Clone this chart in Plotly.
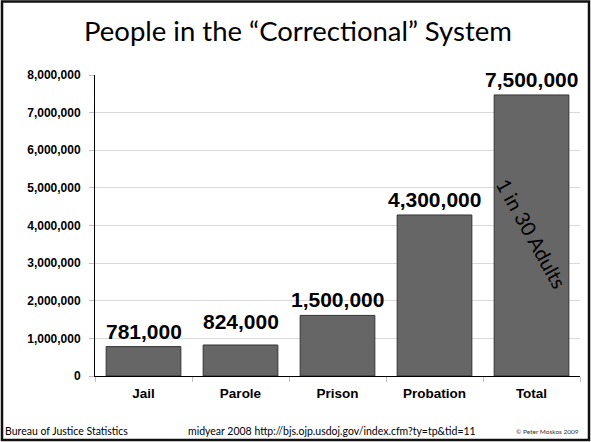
import plotly.graph_objects as go

categories = ["Jail", "Parole", "Prison", "Probation", "Total"]
values = [781000, 824000, 1610000, 4280000, 7470000]
bar_labels = ["781,000", "824,000", "1,500,000", "4,300,000", "7,500,000"]
y_ticks = [0, 1000000, 2000000, 3000000, 4000000, 5000000, 6000000, 7000000, 8000000]
y_tick_labels = ["0", "1,000,000", "2,000,000", "3,000,000", "4,000,000",
                 "5,000,000", "6,000,000", "7,000,000", "8,000,000"]
note_y = 3800000

title_text = "People in the \u201cCorrectional\u201d System"
note_text = "1 in 30 Adults"
footer_left = "Bureau of Justice Statistics"
footer_mid = "midyear 2008 http://bjs.ojp.usdoj.gov/index.cfm?ty=tp&tid=11"
footer_right = "\u00a9 Peter Moskos 2009"

# styling: pixel lift of each value label above its bar
label_lift = [2, 10, 2, 2, 2]

W, H = 591, 442
L, R, T, B = 95, 11, 75, 66
pw, ph = W - L - R, H - T - B

def px(x):
    return (x - L) / pw

def py(y):
    return (H - B - y) / ph

fig = go.Figure()
fig.add_trace(go.Bar(
    x=categories, y=values,
    marker=dict(color="#666666", line=dict(color="#333333", width=1)),
    width=0.77,
    hoverinfo="skip",
))

annotations = []
for c, v, t, s in zip(categories, values, bar_labels, label_lift):
    annotations.append(dict(
        x=c, y=v, xref="x", yref="y", text=t, showarrow=False,
        yanchor="bottom", yshift=s,
        font=dict(family="Liberation Sans", size=21, color="black", weight="bold"),
    ))

annotations.append(dict(
    x=categories[4], y=note_y, xref="x", yref="y", text=note_text,
    showarrow=False, textangle=61, xshift=0,
    font=dict(family="Lato", size=20, color="black"),
))

annotations.append(dict(
    x=px(298), y=py(31), xref="paper", yref="paper", text=title_text,
    showarrow=False, xanchor="center", yanchor="middle",
    font=dict(family="Lato", size=27.5, color="black"),
))
annotations.append(dict(
    x=px(3), y=py(431), xref="paper", yref="paper", text=footer_left,
    showarrow=False, xanchor="left", yanchor="middle",
    font=dict(family="Lato", size=10.5, color="black"),
))
annotations.append(dict(
    x=px(186), y=py(431), xref="paper", yref="paper", text=footer_mid,
    showarrow=False, xanchor="left", yanchor="middle",
    font=dict(family="Lato", size=10.5, color="black"),
))
annotations.append(dict(
    x=px(581), y=py(432), xref="paper", yref="paper", text=footer_right,
    showarrow=False, xanchor="right", yanchor="middle",
    font=dict(family="Lato", size=6.5, color="#333333"),
))

fig.update_layout(
    width=W, height=H,
    margin=dict(l=L, r=R, t=T, b=B, pad=0),
    paper_bgcolor="white", plot_bgcolor="white",
    showlegend=False,
    annotations=annotations,
    shapes=[dict(type="rect", xref="paper", yref="paper",
                 x0=px(2), x1=px(589), y0=py(440), y1=py(1.5),
                 line=dict(color="#111111", width=2.5))],
    xaxis=dict(
        showline=True, linecolor="black", linewidth=1,
        ticks="outside", tickson="boundaries", ticklen=5, tickcolor="#bfbfbf",
        ticklabelstandoff=5,
        tickfont=dict(family="Liberation Sans", size=13.5, color="black", weight="bold"),
        showgrid=False, fixedrange=True,
    ),
    yaxis=dict(
        range=[0, 8000000], tickvals=y_ticks, ticktext=y_tick_labels,
        showline=True, linecolor="black", linewidth=1,
        ticks="outside", ticklen=5, tickcolor="#bfbfbf",
        ticklabelstandoff=6,
        showgrid=True, gridcolor="#d9d9d9", gridwidth=1,
        zeroline=False,
        tickfont=dict(family="Liberation Sans", size=12, color="black", weight="bold"),
        fixedrange=True,
    ),
)

fig.write_html("out.html", config={"displayModeBar": False},
               post_script="document.body.style.margin='0';document.body.style.overflow='hidden';")
